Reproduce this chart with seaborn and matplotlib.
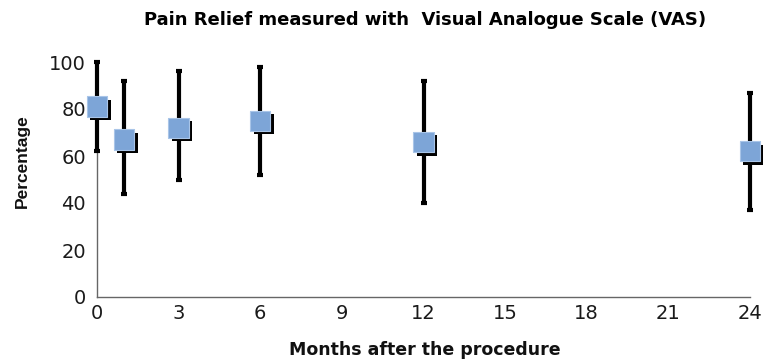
import matplotlib
matplotlib.use("Agg")
import matplotlib.pyplot as plt
import matplotlib.patheffects as pe
import seaborn as sns
import pandas as pd

months = [0, 1, 3, 6, 12, 24]
mean_vas = [81, 67, 72, 75, 66, 62]
upper_vas = [100, 92, 96, 98, 92, 87]
lower_vas = [62, 44, 50, 52, 40, 37]
x_ticks = [0, 3, 6, 9, 12, 15, 18, 21, 24]
y_ticks = [0, 20, 40, 60, 80, 100]

df = pd.DataFrame({"month": months, "mean": mean_vas, "hi": upper_vas, "lo": lower_vas})

sns.set_style("white")
plt.rcParams['font.family'] = ['DejaVu Sans']
plt.rcParams['text.color'] = '#111111'
plt.rcParams['axes.labelcolor'] = '#111111'

fig = plt.figure(figsize=(7.63, 3.62), dpi=100)
ax = fig.add_axes([97/763, 1 - 297/362, (750 - 97)/763, (297 - 62)/362])

ax.errorbar(df["month"], df["mean"],
            yerr=[df["mean"] - df["lo"], df["hi"] - df["mean"]],
            fmt='none', ecolor='black', elinewidth=3, capsize=2, capthick=3,
            zorder=3, clip_on=False)

sns.scatterplot(data=df, x="month", y="mean", marker='s', s=215,
                color='#7DA5D7', edgecolor='#A9C5E8', linewidth=0.8,
                ax=ax, zorder=4, clip_on=False, legend=False)
for coll in ax.collections[-1:]:
    coll.set_path_effects([pe.SimplePatchShadow(offset=(2.5, -2.5), shadow_rgbFace='black', alpha=1.0),
                           pe.Normal()])

ax.set_xlim(0, 24)
ax.set_ylim(0, 100)
ax.set_xticks(x_ticks)
ax.set_yticks(y_ticks)
ax.set_xticklabels([str(v) for v in x_ticks])
ax.set_yticklabels([str(v) for v in y_ticks])

for s in ['top', 'right']:
    ax.spines[s].set_visible(False)
for s in ['left', 'bottom']:
    ax.spines[s].set_color('#666666')
    ax.spines[s].set_linewidth(1.0)

ax.tick_params(axis='both', which='major', direction='inout', length=6, width=1,
               color='#666666', labelsize=14, labelcolor='#1a1a1a', pad=2)
ax.tick_params(axis='y', pad=5)

ax.set_xlabel("Months after the procedure", fontsize=12.5, fontweight='bold', va='center')
ax.xaxis.set_label_coords((425 - 97) / 653, (297 - 350) / 235)
ax.set_ylabel("Percentage", fontsize=12.5, fontweight='bold',
              family=['Liberation Sans', 'DejaVu Sans'], va='center')
ax.yaxis.set_label_coords((22 - 97) / 653, (297 - 161) / 235)
fig.text(425/763, 1 - 20/362, "Pain Relief measured with  Visual Analogue Scale (VAS)",
         ha='center', va='center', fontsize=13, fontweight='bold', color='black')

fig.savefig("out.png", dpi=100)
